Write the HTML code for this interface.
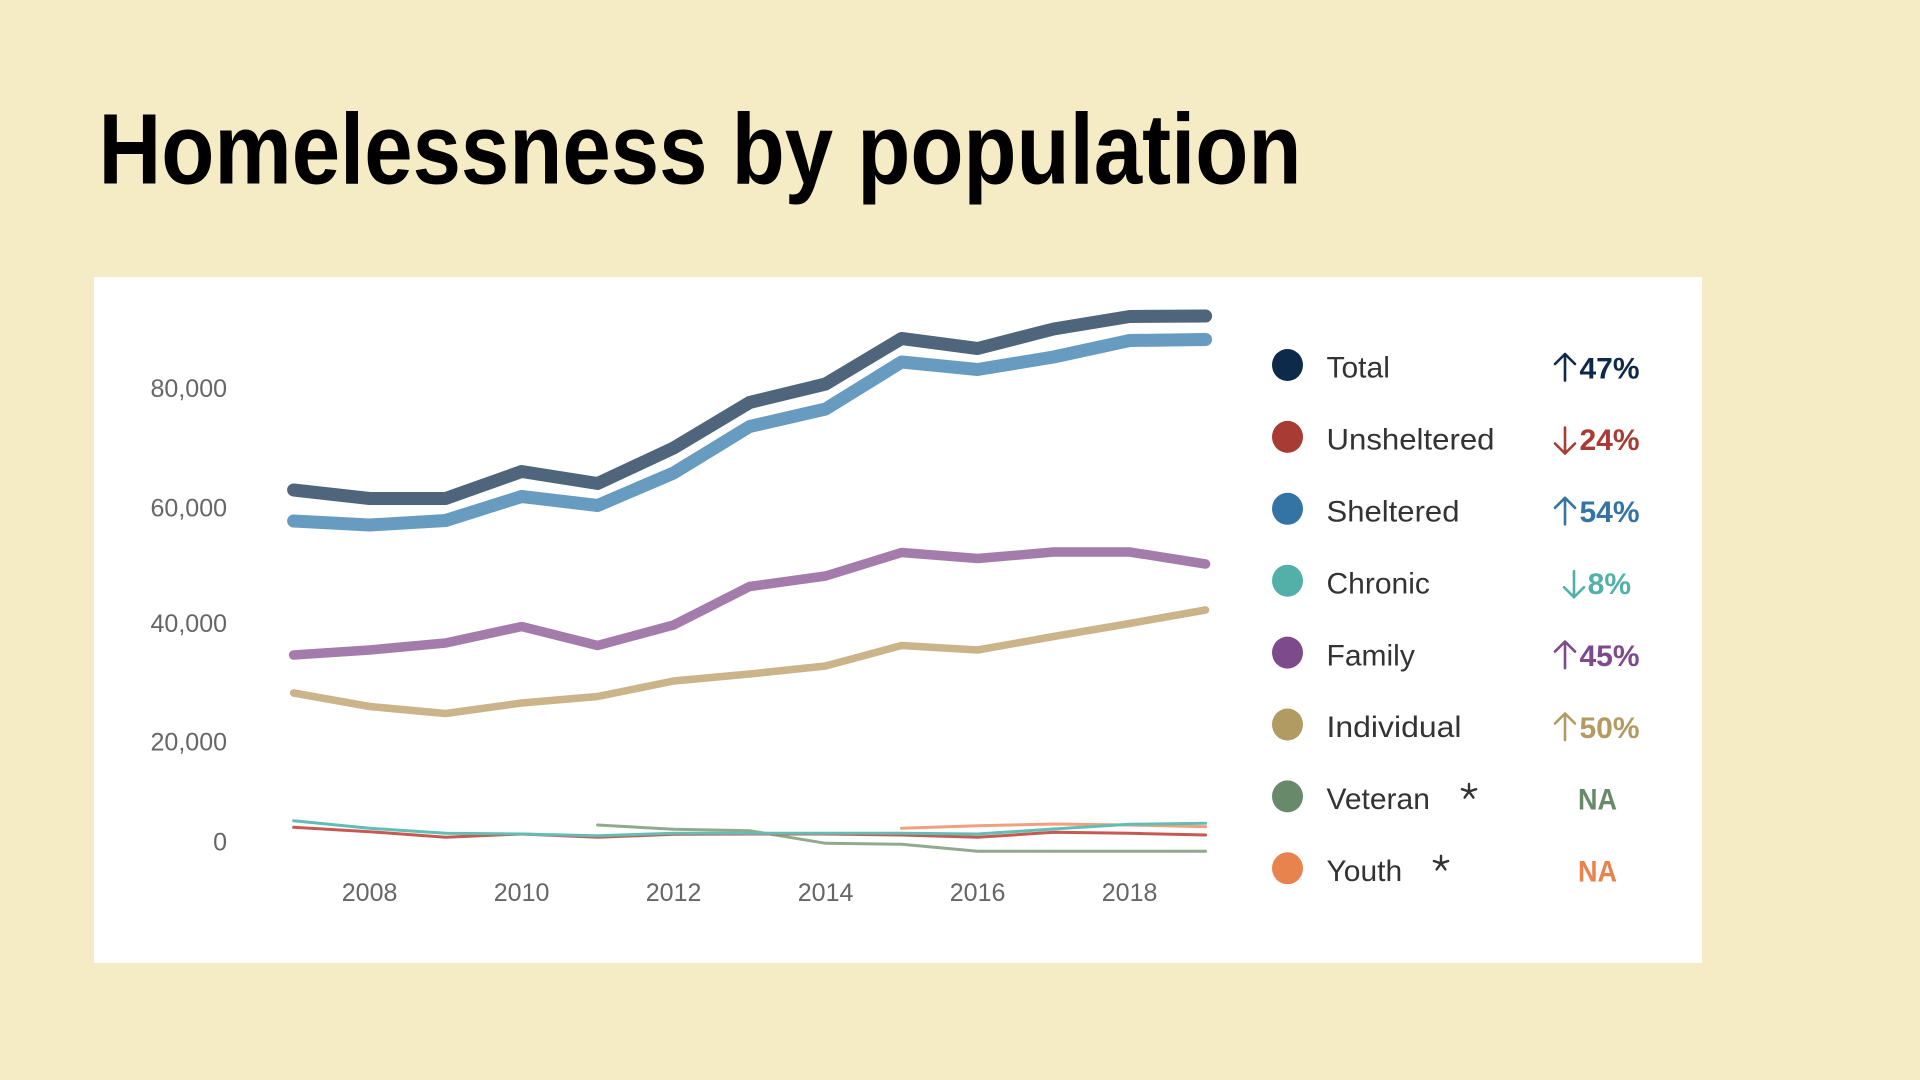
<!DOCTYPE html>
<html>
<head>
<meta charset="utf-8">
<style>
  html, body { margin: 0; padding: 0; background: #f5ebc4; }
  body { width: 1920px; height: 1080px; overflow: hidden; }
  svg { display: block; }
</style>
</head>
<body>
<svg width="1920" height="1080" viewBox="0 0 1920 1080" xmlns="http://www.w3.org/2000/svg">
  <rect x="0" y="0" width="1920" height="1080" fill="#f5ebc4"/>

  <!-- Title -->
  <text x="98.5" y="183.5" font-family="'Liberation Sans', sans-serif" font-weight="bold" font-size="100" fill="#000" textLength="1203" lengthAdjust="spacingAndGlyphs">Homelessness by population</text>

  <!-- Panel -->
  <rect x="94" y="277" width="1608" height="686" fill="#ffffff"/>

  <!-- Y axis labels -->
  <g font-family="'Liberation Sans', sans-serif" font-size="25" fill="#666666" text-anchor="end">
    <text x="227" y="397">80,000</text>
    <text x="227" y="516.5">60,000</text>
    <text x="227" y="632">40,000</text>
    <text x="227" y="750.5">20,000</text>
    <text x="227" y="850.5">0</text>
  </g>

  <!-- X axis labels -->
  <g font-family="'Liberation Sans', sans-serif" font-size="25" fill="#666666" text-anchor="middle">
    <text x="369.6" y="901">2008</text>
    <text x="521.6" y="901">2010</text>
    <text x="673.6" y="901">2012</text>
    <text x="825.6" y="901">2014</text>
    <text x="977.6" y="901">2016</text>
    <text x="1129.6" y="901">2018</text>
  </g>

  <!-- Series lines -->
  <g fill="none" stroke-linecap="round" stroke-linejoin="round">
    <!-- thin lines -->
    <polyline stroke="#8fab8c" stroke-width="3" points="597.6,825 673.6,829.3 749.6,830.7 825.6,843.3 901.6,844.3 977.6,851.3 1053.6,851.3 1129.6,851.3 1205.6,851.3"/>
    <polyline stroke="#f0a07e" stroke-width="3" points="901.6,828.3 977.6,825.7 1053.6,824 1129.6,825 1205.6,826.7"/>
    <polyline stroke="#c45a53" stroke-width="3" points="293.6,827.3 369.6,831.7 445.6,837.3 521.6,834 597.6,837.3 673.6,834.3 749.6,834 825.6,834 901.6,835 977.6,837.3 1053.6,832.3 1129.6,833.3 1205.6,835"/>
    <polyline stroke="#62bdb4" stroke-width="3" points="293.6,820.7 369.6,828.3 445.6,833.3 521.6,834 597.6,835.7 673.6,833.3 749.6,833.3 825.6,833.3 901.6,833.3 977.6,834 1053.6,829 1129.6,824.3 1205.6,823.3"/>

    <!-- Individual -->
    <polyline stroke="#cbb38a" stroke-width="7.5" points="293.6,693 369.6,706.5 445.6,713.5 521.6,703 597.6,696.5 673.6,681 749.6,674 825.6,666 901.6,645.5 977.6,650 1053.6,636.5 1129.6,623.5 1205.6,610"/>
    <!-- Family -->
    <polyline stroke="#a47cac" stroke-width="9.5" points="293.6,655 369.6,650 445.6,643 521.6,626.5 597.6,645.5 673.6,625 749.6,586.5 825.6,576 901.6,552.5 977.6,558.5 1053.6,552 1129.6,552 1205.6,564"/>
    <!-- Sheltered -->
    <polyline stroke="#689bc0" stroke-width="13" points="293.6,521 369.6,525 445.6,520.5 521.6,496.5 597.6,505.5 673.6,473 749.6,426.5 825.6,409 901.6,362 977.6,369.5 1053.6,357 1129.6,340.5 1205.6,339.5"/>
    <!-- Total -->
    <polyline stroke="#4f657b" stroke-width="13" points="293.6,490 369.6,498.5 445.6,498.5 521.6,471.5 597.6,483.5 673.6,448 749.6,402.5 825.6,384 901.6,338.5 977.6,348.5 1053.6,329 1129.6,316.5 1205.6,316"/>
  </g>

  <!-- Legend circles -->
  <g>
    <ellipse cx="1287.5" cy="365" rx="15.5" ry="16" fill="#0e2a4a"/>
    <ellipse cx="1287.5" cy="436.9" rx="15.5" ry="16" fill="#a83c34"/>
    <ellipse cx="1287.5" cy="508.8" rx="15.5" ry="16" fill="#3474a4"/>
    <ellipse cx="1287.5" cy="580.7" rx="15.5" ry="16" fill="#52b0a9"/>
    <ellipse cx="1287.5" cy="652.6" rx="15.5" ry="16" fill="#7d4a8c"/>
    <ellipse cx="1287.5" cy="724.5" rx="15.5" ry="16" fill="#b29a63"/>
    <ellipse cx="1287.5" cy="796.4" rx="15.5" ry="16" fill="#698a6a"/>
    <ellipse cx="1287.5" cy="868.3" rx="15.5" ry="16" fill="#e8834e"/>
  </g>

  <!-- Legend labels -->
  <g font-family="'Liberation Sans', sans-serif" font-size="30" fill="#333333">
    <text x="1326.5" y="377.7">Total</text>
    <text x="1326.5" y="449.6" textLength="168" lengthAdjust="spacingAndGlyphs">Unsheltered</text>
    <text x="1326.5" y="521.5" textLength="133" lengthAdjust="spacingAndGlyphs">Sheltered</text>
    <text x="1326.5" y="593.4">Chronic</text>
    <text x="1326.5" y="665.3">Family</text>
    <text x="1326.5" y="737.2" textLength="135" lengthAdjust="spacingAndGlyphs">Individual</text>
    <text x="1326.5" y="809.1">Veteran</text>
    <text x="1326.5" y="881">Youth</text>
  </g>

  <!-- Asterisks -->
  <g stroke="#333333" stroke-width="2.4" stroke-linecap="round" fill="none">
    <g transform="translate(1469,791.5)">
      <line x1="0" y1="0" x2="0" y2="-7.5"/>
      <line x1="0" y1="0" x2="7.1" y2="-2.3"/>
      <line x1="0" y1="0" x2="4.4" y2="6.1"/>
      <line x1="0" y1="0" x2="-4.4" y2="6.1"/>
      <line x1="0" y1="0" x2="-7.1" y2="-2.3"/>
    </g>
    <g transform="translate(1441,863.3)">
      <line x1="0" y1="0" x2="0" y2="-7.5"/>
      <line x1="0" y1="0" x2="7.1" y2="-2.3"/>
      <line x1="0" y1="0" x2="4.4" y2="6.1"/>
      <line x1="0" y1="0" x2="-4.4" y2="6.1"/>
      <line x1="0" y1="0" x2="-7.1" y2="-2.3"/>
    </g>
  </g>

  <!-- Arrows -->
  <g fill="none" stroke-width="2.6" stroke-linecap="round" stroke-linejoin="round">
    <!-- Total up -->
    <path stroke="#0e2a4a" d="M1565,380.5 L1565,354 M1555,364 L1565,354 L1575,364"/>
    <!-- Unsheltered down -->
    <path stroke="#a83c34" d="M1565,427.5 L1565,453.5 M1555,443.5 L1565,453.5 L1575,443.5"/>
    <!-- Sheltered up -->
    <path stroke="#3474a4" d="M1565,524.3 L1565,497.8 M1555,507.8 L1565,497.8 L1575,507.8"/>
    <!-- Chronic down -->
    <path stroke="#52b0a9" d="M1574,571.2 L1574,597.2 M1564,587.2 L1574,597.2 L1584,587.2"/>
    <!-- Family up -->
    <path stroke="#7d4a8c" d="M1565,668.1 L1565,641.6 M1555,651.6 L1565,641.6 L1575,651.6"/>
    <!-- Individual up -->
    <path stroke="#b29a63" d="M1565,740 L1565,713.5 M1555,723.5 L1565,713.5 L1575,723.5"/>
  </g>

  <!-- Percentages -->
  <g font-family="'Liberation Sans', sans-serif" font-weight="bold" font-size="30">
    <text x="1639.5" y="378.3" text-anchor="end" fill="#0e2a4a">47%</text>
    <text x="1639.5" y="450.2" text-anchor="end" fill="#a83c34">24%</text>
    <text x="1639.5" y="522.1" text-anchor="end" fill="#3474a4">54%</text>
    <text x="1631" y="594" text-anchor="end" fill="#52b0a9">8%</text>
    <text x="1639.5" y="665.9" text-anchor="end" fill="#7d4a8c">45%</text>
    <text x="1639.5" y="737.8" text-anchor="end" fill="#b29a63">50%</text>
    <text x="1597.5" y="809.7" text-anchor="middle" fill="#698a6a" textLength="39" lengthAdjust="spacingAndGlyphs">NA</text>
    <text x="1597.5" y="881.6" text-anchor="middle" fill="#e8834e" textLength="39" lengthAdjust="spacingAndGlyphs">NA</text>
  </g>
</svg>
</body>
</html>
